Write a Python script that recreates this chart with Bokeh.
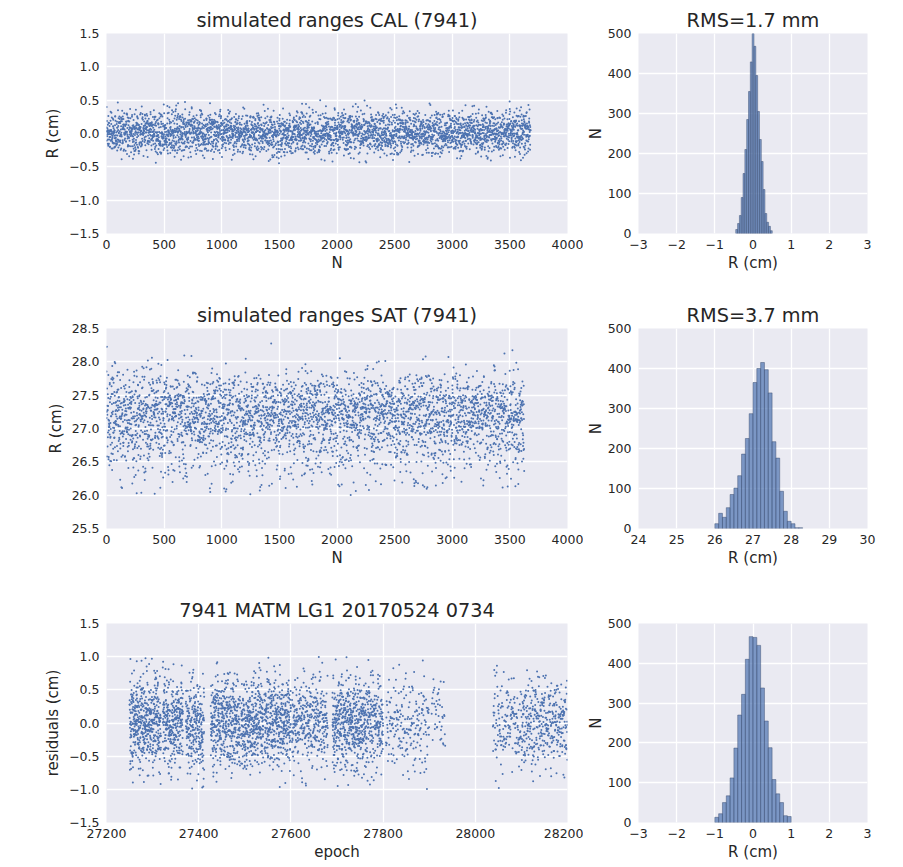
from bokeh.plotting import figure
from bokeh.layouts import column, row
from bokeh.models import FixedTicker, Range1d
from bokeh.embed import file_html
from bokeh.resources import INLINE

# ---------------- data ----------------
# CAL histogram (bins of width 0.0478 cm starting at -0.452 cm)
cal_bin_start = -0.452
cal_bin_width = 0.0478
cal_counts = [10, 25, 45, 90, 150, 210, 285, 355, 429, 500,
              468, 395, 305, 235, 180, 110, 50, 28, 18, 7]
cal_n_points = 3680

# SAT histogram (bins of width 0.1 cm starting at 26.0 cm)
sat_bin_start = 26.0
sat_bin_width = 0.1
sat_counts = [12, 38, 28, 52, 85, 101, 132, 186, 225, 287, 365, 400,
              415, 397, 339, 217, 176, 93, 43, 18, 12, 2, 2]

# residual histogram (bins of width 0.1 cm starting at -1.0 cm)
res_bin_start = -1.0
res_bin_width = 0.1
res_counts = [13, 22, 50, 67, 112, 187, 270, 322, 410, 467,
              465, 445, 338, 255, 188, 108, 72, 50, 17, 15]

# epoch spans that hold residual points, with number of points in each
seg_start = [27250, 27322, 27372, 27426, 27492, 27542, 27602, 27690, 27762, 27806, 27905, 28038, 28100]
seg_end   = [27318, 27366, 27412, 27490, 27540, 27600, 27680, 27762, 27800, 27900, 27935, 28100, 28200]
seg_count = [480, 290, 240, 410, 320, 370, 340, 480, 190, 200, 40, 150, 363]

titles = ["simulated ranges CAL (7941)", "RMS=1.7 mm",
          "simulated ranges SAT (7941)", "RMS=3.7 mm",
          "7941 MATM LG1 20170524 0734", ""]

# tick values and labels
n_ticks = [0, 500, 1000, 1500, 2000, 2500, 3000, 3500, 4000]
n_labels = [str(t) for t in n_ticks]
r_ticks = [-1.5, -1.0, -0.5, 0.0, 0.5, 1.0, 1.5]
r_labels = ["\u22121.5", "\u22121.0", "\u22120.5", "0.0", "0.5", "1.0", "1.5"]
sat_ticks = [25.5, 26.0, 26.5, 27.0, 27.5, 28.0, 28.5]
sat_labels = ["25.5", "26.0", "26.5", "27.0", "27.5", "28.0", "28.5"]
h_ticks = [-3, -2, -1, 0, 1, 2, 3]
h_labels = ["\u22123", "\u22122", "\u22121", "0", "1", "2", "3"]
hs_ticks = [24, 25, 26, 27, 28, 29, 30]
hs_labels = [str(t) for t in hs_ticks]
cnt_ticks = [0, 100, 200, 300, 400, 500]
cnt_labels = [str(t) for t in cnt_ticks]
ep_ticks = [27200, 27400, 27600, 27800, 28000, 28200]
ep_labels = [str(t) for t in ep_ticks]

# ---------------- helpers ----------------
BLUE = "#4C72B0"
TXT = "#262626"
FONT = "DejaVu Sans"


def bin_edges(start, width, counts):
    lefts = [start + i * width for i in range(len(counts))]
    rights = [l + width for l in lefts]
    return lefts, rights


def values_from_hist(start, width, counts):
    """Spread each bin's count evenly inside that bin."""
    vals = []
    for i, c in enumerate(counts):
        lo = start + i * width
        for j in range(c):
            vals.append(lo + (j + 0.5) / c * width)
    return vals


def mix(k):
    x = (k * 0x9E3779B1 + 0x7F4A7C15) & 0xFFFFFFFF
    x ^= x >> 16
    x = (x * 0x85EBCA6B) & 0xFFFFFFFF
    x ^= x >> 13
    x = (x * 0xC2B2AE35) & 0xFFFFFFFF
    x ^= x >> 16
    return x


def scrambled(vals, salt):
    order = sorted(range(len(vals)), key=lambda k: mix(k + salt))
    return [vals[o] for o in order]


def style(p, xt, xl, yt, yl, xlab, ylab, ylab_standoff):
    p.background_fill_color = "#EAEAF2"
    p.border_fill_color = "white"
    p.outline_line_color = None
    p.grid.grid_line_color = "white"
    p.grid.grid_line_width = 1.3
    p.xaxis.ticker = FixedTicker(ticks=xt)
    p.yaxis.ticker = FixedTicker(ticks=yt)
    p.xaxis.major_label_overrides = dict(zip(xt, xl))
    p.yaxis.major_label_overrides = dict(zip(yt, yl))
    p.xaxis.axis_label = xlab
    p.yaxis.axis_label = ylab
    for ax in (p.xaxis, p.yaxis):
        ax.axis_line_color = None
        ax.major_tick_line_color = None
        ax.minor_tick_line_color = None
        ax.major_tick_out = 0
        ax.major_tick_in = 0
        ax.major_label_text_font = FONT
        ax.major_label_text_font_size = "12.5px"
        ax.major_label_text_color = TXT
        ax.axis_label_text_font = FONT
        ax.axis_label_text_font_size = "15px"
        ax.axis_label_text_font_style = "normal"
        ax.axis_label_text_color = TXT
    p.xaxis.major_label_standoff = 6
    p.xaxis.axis_label_standoff = 2
    p.yaxis.major_label_standoff = 7
    p.yaxis.axis_label_standoff = ylab_standoff
    p.title.text_font = FONT
    p.title.text_font_size = "19.3px"
    p.title.text_font_style = "normal"
    p.title.text_color = TXT
    p.title.align = "center"
    p.title.standoff = 3


def make_fig(title, x_range, y_range, left, right, width, height, bottom):
    return figure(width=width, height=height, title=title,
                  x_range=Range1d(*x_range), y_range=Range1d(*y_range),
                  min_border_left=left, min_border_right=right,
                  min_border_top=33, min_border_bottom=bottom,
                  output_backend="svg", toolbar_location=None)


# left figures: frame x 106..567 ; right figures: frame x 637..867
LW, RW = 583, 312
H12, H3 = 295, 273

# ---------------- row 1: CAL ----------------
cal_vals = scrambled(values_from_hist(cal_bin_start, cal_bin_width, cal_counts), 11)[:cal_n_points]
p1 = make_fig(titles[0], (0, 4000), (-1.5, 1.5), 106, 16, LW, H12, 62)
p1.scatter(list(range(len(cal_vals))), cal_vals, size=2.0, color=BLUE, line_color=None)
style(p1, n_ticks, n_labels, r_ticks, r_labels, "N", "R (cm)", 4)

p2 = make_fig(titles[1], (-3, 3), (0, 500), 54, 28, RW, H12, 62)
l, r = bin_edges(cal_bin_start, cal_bin_width, cal_counts)
p2.quad(left=l, right=r, bottom=0, top=cal_counts, fill_color=BLUE, fill_alpha=0.7,
        line_color="#3a4d72", line_width=0.6, line_alpha=0.8)
style(p2, h_ticks, h_labels, cnt_ticks, cnt_labels, "R (cm)", "N", 0)

# ---------------- row 2: SAT ----------------
sat_vals = scrambled(values_from_hist(sat_bin_start, sat_bin_width, sat_counts), 5000)
p3 = make_fig(titles[2], (0, 4000), (25.5, 28.5), 106, 16, LW, H12, 62)
p3.scatter(list(range(len(sat_vals))), sat_vals, size=2.0, color=BLUE, line_color=None)
style(p3, n_ticks, n_labels, sat_ticks, sat_labels, "N", "R (cm)", 4)

p4 = make_fig(titles[3], (24, 30), (0, 500), 54, 28, RW, H12, 62)
l, r = bin_edges(sat_bin_start, sat_bin_width, sat_counts)
p4.quad(left=l, right=r, bottom=0, top=sat_counts, fill_color=BLUE, fill_alpha=0.7,
        line_color="#3a4d72", line_width=0.6, line_alpha=0.8)
style(p4, hs_ticks, hs_labels, cnt_ticks, cnt_labels, "R (cm)", "N", 0)

# ---------------- row 3: residuals ----------------
epochs = []
for s, e, c in zip(seg_start, seg_end, seg_count):
    for j in range(c):
        epochs.append(s + (j + 0.5) / c * (e - s))
res_vals = scrambled(values_from_hist(res_bin_start, res_bin_width, res_counts), 90000)
p5 = make_fig(titles[4], (27200, 28200), (-1.5, 1.5), 106, 16, LW, H3, 40)
p5.scatter(epochs, res_vals[:len(epochs)], size=2.0, color=BLUE, line_color=None)
style(p5, ep_ticks, ep_labels, r_ticks, r_labels, "epoch", "residuals (cm)", 4)

p6 = make_fig(titles[5], (-3, 3), (0, 500), 54, 28, RW, H3, 40)
l, r = bin_edges(res_bin_start, res_bin_width, res_counts)
p6.quad(left=l, right=r, bottom=0, top=res_counts, fill_color=BLUE, fill_alpha=0.7,
        line_color="#3a4d72", line_width=0.6, line_alpha=0.8)
style(p6, h_ticks, h_labels, cnt_ticks, cnt_labels, "R (cm)", "N", 0)

layout = column(row(p1, p2), row(p3, p4), row(p5, p6))
open("out.html", "w").write(file_html(layout, INLINE))
